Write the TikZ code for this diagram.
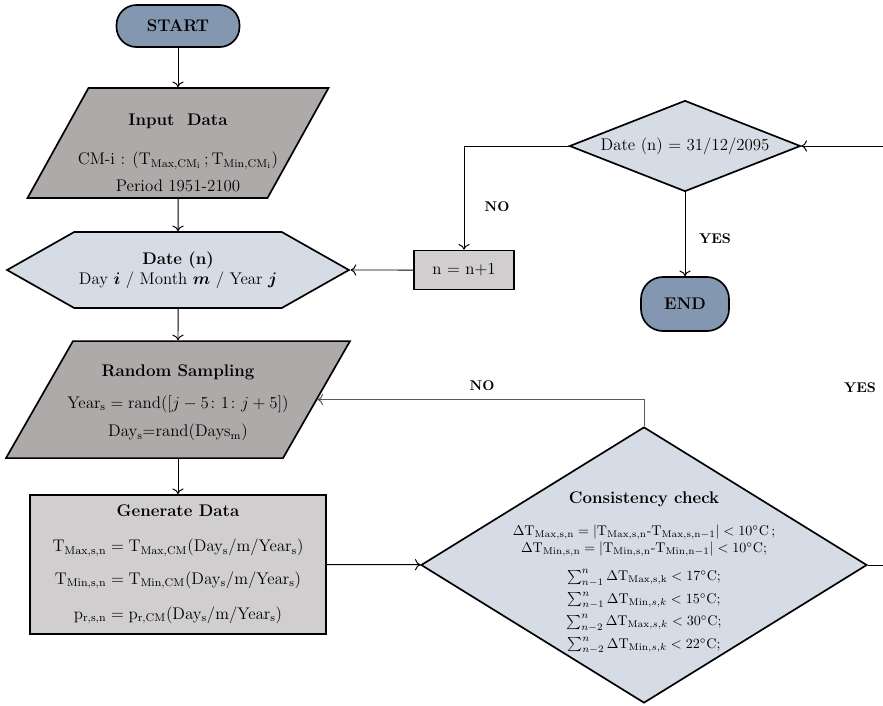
\documentclass[tikz,border=0pt]{standalone}
\usepackage{amsmath}
\usetikzlibrary{shapes.geometric,shapes.symbols,arrows.meta}
\definecolor{termcol}{HTML}{8497B0}
\definecolor{iocol}{HTML}{AEAAAA}
\definecolor{decicol}{HTML}{D6DCE5}
\definecolor{proccol}{HTML}{D0CECE}
\definecolor{loopcol}{HTML}{595959}
\begin{document}
\begin{tikzpicture}
    \tikzset{terminal/.style = {rectangle,draw,line width=1.2pt,fill=termcol,font=\large\bfseries}}
    \tikzset{io/.style = {trapezium,draw,line width=1.2pt,fill=iocol,font=\large}}
    \tikzset{hexa/.style = {signal,signal to=west and east,signal pointer angle=59,draw,line width=1.2pt,fill=decicol,align=center,font=\large}}
    \tikzset{process/.style = {rectangle,draw,line width=1.2pt,fill=proccol,align=center,font=\large}}
    \tikzset{decision/.style = {diamond,draw,line width=1.2pt,fill=decicol,inner sep=0pt}}
    \tikzset{edge/.style = {-{To[length=4pt,width=8pt]},line width=0.7pt}}
    \tikzset{answer/.style = {font=\bfseries}}
    \useasboundingbox (0,0) rectangle (22.075,-17.625);
    \node[terminal,rounded corners=0.5cm,minimum width=3.075cm,minimum height=1.05cm] (start) at (4.45,-0.65) {START};
    \node[io,trapezium left angle=61,trapezium right angle=119,inner xsep=2.2375cm,inner ysep=1.375cm] (input) at (4.45,-3.575)
        {\makebox[0pt]{\raisebox{-11pt}[0pt][0pt]{\begin{tabular}{c}
         \textbf{Input\ \ Data}\\[14pt]
         CM-i : (T$_{\mathrm{Max,CM_i}}$\,;\,T$_{\mathrm{Min,CM_i}}$)\\[5pt]
         Period 1951-2100
        \end{tabular}}}};
    \node[hexa,minimum width=8.3cm,minimum height=1.9cm] (date) at (4.45,-6.75)
        {\textbf{Date (n)}\\ Day $\boldsymbol{i}$ / Month $\boldsymbol{m}$ / Year $\boldsymbol{j}$};
    \node[process,minimum width=2.5cm,minimum height=0.975cm] (nbox) at (11.6,-6.75) {n $=$ n$+$1};
    \node[decision,minimum width=5.775cm,minimum height=2.275cm] (check) at (17.125,-3.65)
        {\large\makebox[0pt]{Date (n) $=$ 31/12/2095}};
    \node[terminal,rounded corners=0.55cm,minimum width=2.2cm,minimum height=1.35cm] (finish) at (17.125,-7.6) {END};
    \node[io,trapezium left angle=60.2,trapezium right angle=119.8,inner xsep=2.625cm,inner ysep=1.4625cm] (sampling) at (4.45,-9.99)
        {\makebox[0pt]{\raisebox{-5pt}[0pt][0pt]{\begin{tabular}{c}
         \textbf{Random Sampling}\\[9pt]
         $\mathrm{Year_s}=\mathrm{rand}([j-5\colon 1\colon j+5])$\\[6pt]
         Day$_\mathrm{s}$=rand(Days$_\mathrm{m}$)
        \end{tabular}}}};
    \node[process,minimum width=7.4cm,minimum height=3.475cm] (generate) at (4.45,-14.11)
        {\textbf{Generate Data}\\[11pt]
         $\mathrm{T_{Max,s,n}}=\mathrm{T_{Max,CM}(Day_s/m/Year_s)}$\\[9pt]
         $\mathrm{T_{Min,s,n}}=\mathrm{T_{Min,CM}(Day_s/m/Year_s)}$\\[11pt]
         $\mathrm{p_{r,s,n}}=\mathrm{p_{r,CM}(Day_s/m/Year_s)}$};
    \node[decision,minimum width=11.15cm,minimum height=6.9cm] (consistency) at (16.1,-14.125)
        {\makebox[0pt]{\raisebox{-8pt}[0pt][0pt]{\begin{tabular}{c}
         {\large\bfseries Consistency check}\\[11pt]
         $\Delta\mathrm{T_{Max,s,n}}=|\mathrm{T_{Max,s,n}}$-$\mathrm{T_{Max,s,n-1}}|<10^{\circ}$C\,;\\[0pt]
         $\Delta\mathrm{T_{Min,s,n}}=|\mathrm{T_{Min,s,n}}$-$\mathrm{T_{Min,n-1}}|<10^{\circ}$C;\\[8pt]
         $\sum_{n-1}^{n}\Delta\mathrm{T_{Max,s,k}}<17^{\circ}$C;\\[4pt]
         $\sum_{n-1}^{n}\Delta\mathrm{T}_{\mathrm{Min},s,k}<15^{\circ}$C;\\[4pt]
         $\sum_{n-2}^{n}\Delta\mathrm{T}_{\mathrm{Max},s,k}<30^{\circ}$C;\\[4pt]
         $\sum_{n-2}^{n}\Delta\mathrm{T}_{\mathrm{Min},s,k}<22^{\circ}$C;
        \end{tabular}}}};
    \coordinate (righttop) at (22.075,-3.65);
    \coordinate (rightlow) at (22.075,-14.125);
    \draw[edge] (start) to (input);
    \draw[edge] (input) to (date);
    \draw[edge] (date) to (sampling);
    \draw[edge] (sampling) to (generate);
    \draw[edge] (generate) to (consistency);
    \draw[edge,draw=loopcol] (consistency.north) |- (sampling.east);
    \draw[line width=0.7pt] (consistency.east) to (rightlow);
    \draw[edge] (righttop) to (check.east);
    \draw[edge] (check.west) -| (nbox.north);
    \draw[edge] (nbox) to (date);
    \draw[edge] (check) to (finish);
    \node[answer] (no1) at (12.425,-5.175) {NO};
    \node[answer] (yes1) at (17.875,-5.975) {YES};
    \node[answer] (no2) at (12.05,-9.65) {NO};
    \node[answer] (yes2) at (21.5,-9.7) {YES};
\end{tikzpicture}
\end{document}
